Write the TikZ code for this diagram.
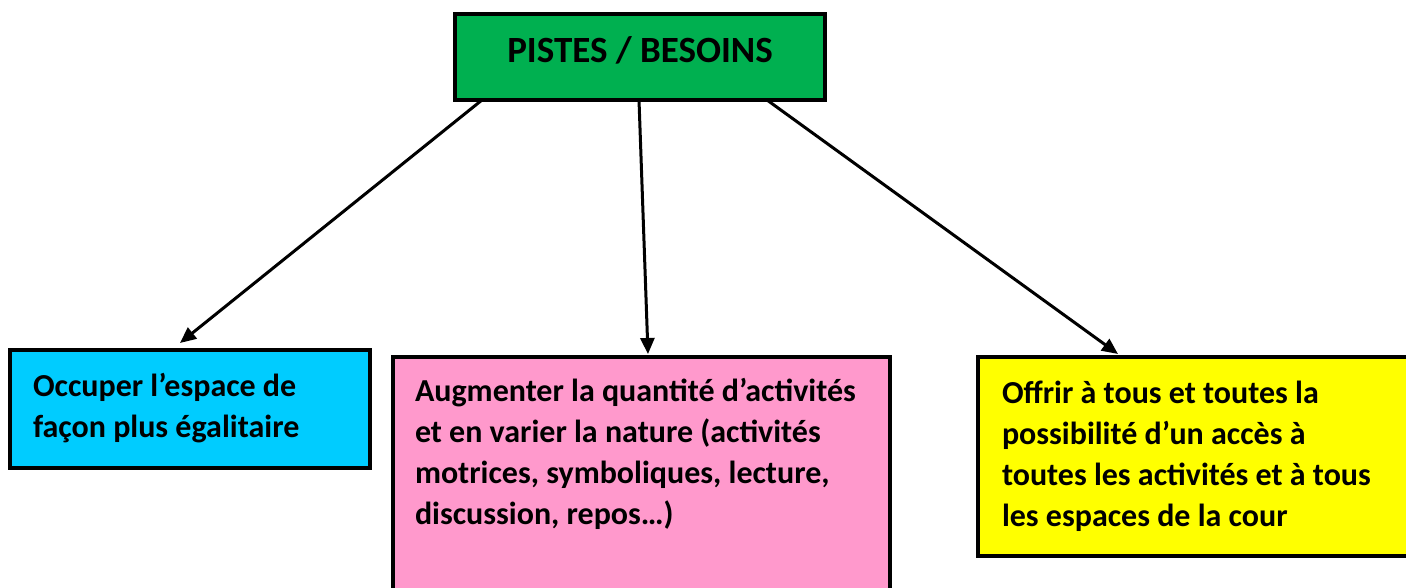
\documentclass[tikz,border=0pt]{standalone}
\usepackage{fontspec}
\setmainfont{Carlito}
\usetikzlibrary{arrows.meta}
\definecolor{boxgreen}{HTML}{00B050}
\definecolor{boxblue}{HTML}{00CCFF}
\definecolor{boxpink}{HTML}{FF99CC}
\definecolor{boxyellow}{HTML}{FFFF00}
\tikzset{
  box/.style={draw=black, line width=3.5pt, rectangle, anchor=north west, outer sep=0pt, inner sep=0pt},
  titlebox/.style={box, line width=4.5pt, fill=boxgreen, font=\fontsize{37}{42}\selectfont\bfseries, text height=23pt, text depth=11pt},
  txt/.style={anchor=base west, align=left, inner sep=0pt, outer sep=0pt, font=\fontsize{32}{41}\selectfont\bfseries},
  arr/.style={line width=3pt, -{Triangle[length=16pt,width=14pt]}}
}
\begin{document}
\begin{tikzpicture}[x=1pt,y=-1pt]
\useasboundingbox (0,0) rectangle (1406,588);
\clip (0,0) rectangle (1406,588);
\node[titlebox, minimum width=370pt, minimum height=86pt] (top) at (455,14) {PISTES / BESOINS};
\node[box, fill=boxblue, minimum width=360pt, minimum height=118pt] (left) at (10,350) {};
\node[box, fill=boxpink, minimum width=497pt, minimum height=260pt] (mid) at (393,357) {};
\node[box, fill=boxyellow, minimum width=450pt, minimum height=199pt] (right) at (978,357) {};
\node[txt] (lefttxt) at (33,437) {Occuper l’espace de\\façon plus égalitaire};
\node[txt] (midtxt) at (415,524) {Augmenter la quantité d’activités\\et en varier la nature (activités\\motrices, symboliques, lecture,\\discussion, repos…)};
\node[txt] (righttxt) at (1002,526) {Offrir à tous et toutes la\\possibilité d’un accès à\\toutes les activités et à tous\\les espaces de la cour};
\draw[arr] ([xshift=27pt]top.south west) -- ([xshift=170pt,yshift=7pt]left.north west);
\draw[arr] ([xshift=184pt]top.south west) -- ([xshift=255pt,yshift=3pt]mid.north west);
\draw[arr] ([xshift=312pt]top.south west) -- ([xshift=140pt,yshift=3pt]right.north west);
\end{tikzpicture}
\end{document}
